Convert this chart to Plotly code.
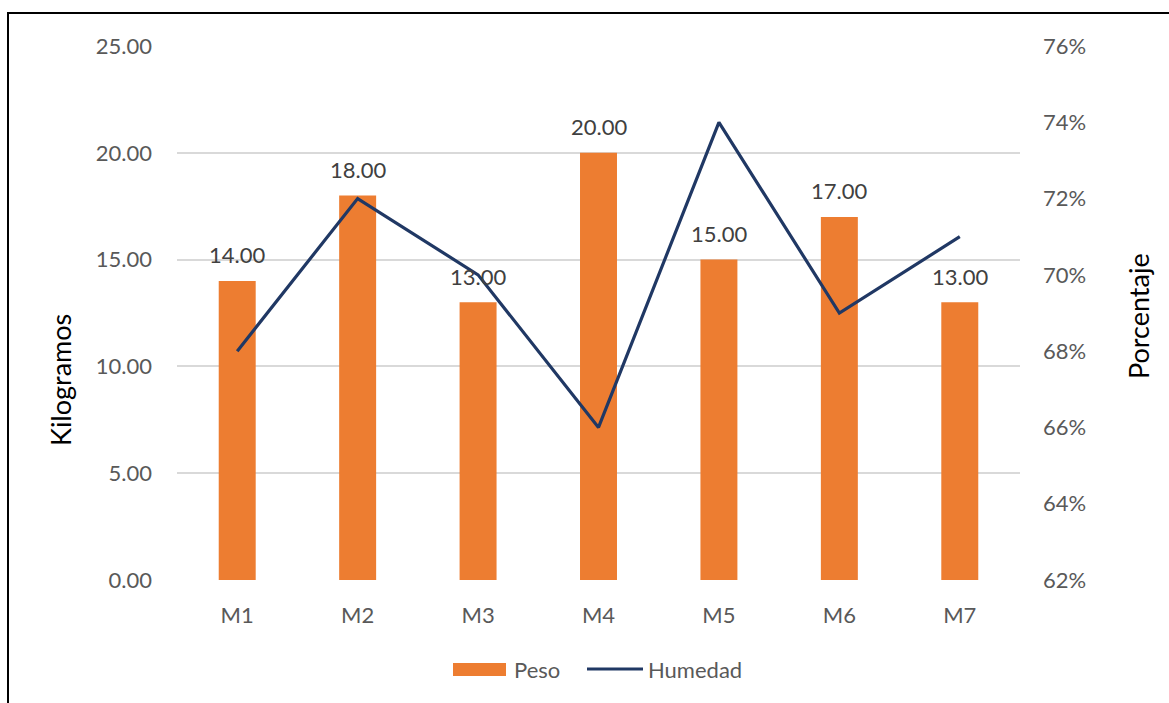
import plotly.graph_objects as go

categories = ["M1", "M2", "M3", "M4", "M5", "M6", "M7"]
peso = [14, 18, 13, 20, 15, 17, 13]
humedad = [0.68, 0.72, 0.70, 0.66, 0.74, 0.69, 0.71]

left_ticks = [0, 5, 10, 15, 20, 25]
right_ticks = [0.62, 0.64, 0.66, 0.68, 0.70, 0.72, 0.74, 0.76]

W, H = 1169, 703
L, R, T, B = 177, 149, 46, 123
pw, ph = W - L - R, H - T - B

def px(x):
    return (x - L) / pw

def py(y):
    return (H - B - y) / ph

FONT = "Lato"
BAR = "#ED7D31"
LINE = "#203864"
TICK = "#595959"

fig = go.Figure()
fig.add_trace(go.Bar(x=categories, y=peso, name="Peso", marker_color=BAR,
                     marker_line_width=0, yaxis="y", showlegend=False))
fig.add_trace(go.Scatter(x=categories, y=humedad, name="Humedad", mode="lines",
                         line=dict(color=LINE, width=3.2), yaxis="y2", showlegend=False))

annotations = []
for c, v in zip(categories, peso):
    annotations.append(dict(x=c, y=v, xref="x", yref="y", text=f"{v:.2f}",
                            showarrow=False, yanchor="middle", yshift=26,
                            font=dict(family=FONT, size=22, color="#404040")))

annotations.append(dict(x=px(60), y=py(380), xref="paper", yref="paper", text="Kilogramos",
                        textangle=-90, showarrow=False, xanchor="center", yanchor="middle",
                        font=dict(family=FONT, size=27, color="#000000")))
annotations.append(dict(x=px(1138), y=py(316), xref="paper", yref="paper", text="Porcentaje",
                        textangle=-90, showarrow=False, xanchor="center", yanchor="middle",
                        font=dict(family=FONT, size=27, color="#000000")))

# custom legend
annotations.append(dict(x=px(512), y=py(669), xref="paper", yref="paper", text="Peso",
                        showarrow=False, xanchor="left", yanchor="middle",
                        font=dict(family=FONT, size=22, color=TICK)))
annotations.append(dict(x=px(646), y=py(669), xref="paper", yref="paper", text="Humedad",
                        showarrow=False, xanchor="left", yanchor="middle",
                        font=dict(family=FONT, size=22, color=TICK)))

shapes = [
    dict(type="rect", xref="paper", yref="paper", x0=px(453), x1=px(506), y0=py(676), y1=py(663),
         fillcolor=BAR, line=dict(width=0)),
    dict(type="line", xref="paper", yref="paper", x0=px(587), x1=px(643), y0=py(669), y1=py(669),
         line=dict(color=LINE, width=3)),
    dict(type="rect", xref="paper", yref="paper", x0=px(8), x1=px(1300), y0=py(900), y1=py(13),
         line=dict(color="#000000", width=2), fillcolor="rgba(0,0,0,0)", layer="above"),
]

fig.update_layout(
    width=W, height=H,
    margin=dict(l=L, r=R, t=T, b=B),
    paper_bgcolor="white", plot_bgcolor="white",
    font=dict(family=FONT, size=22, color=TICK),
    bargap=0.693,
    showlegend=False,
    xaxis=dict(showgrid=False, showline=False, zeroline=False, ticks="",
               ticklabelstandoff=20, tickfont=dict(family=FONT, size=22, color=TICK)),
    yaxis=dict(range=[0, 25], tickvals=left_ticks, tickformat=".2f",
               showgrid=True, gridcolor="#D9D9D9", gridwidth=1.5, zeroline=False,
               showline=False, ticks="", ticklabelstandoff=24,
               tickfont=dict(family=FONT, size=22, color=TICK)),
    yaxis2=dict(range=[0.62, 0.76], tickvals=right_ticks, tickformat=".0%",
                overlaying="y", side="right", showgrid=False, zeroline=False,
                showline=False, ticks="", ticklabelstandoff=22,
                tickfont=dict(family=FONT, size=22, color=TICK)),
    annotations=annotations,
    shapes=shapes,
)

fig.write_html("out.html")
